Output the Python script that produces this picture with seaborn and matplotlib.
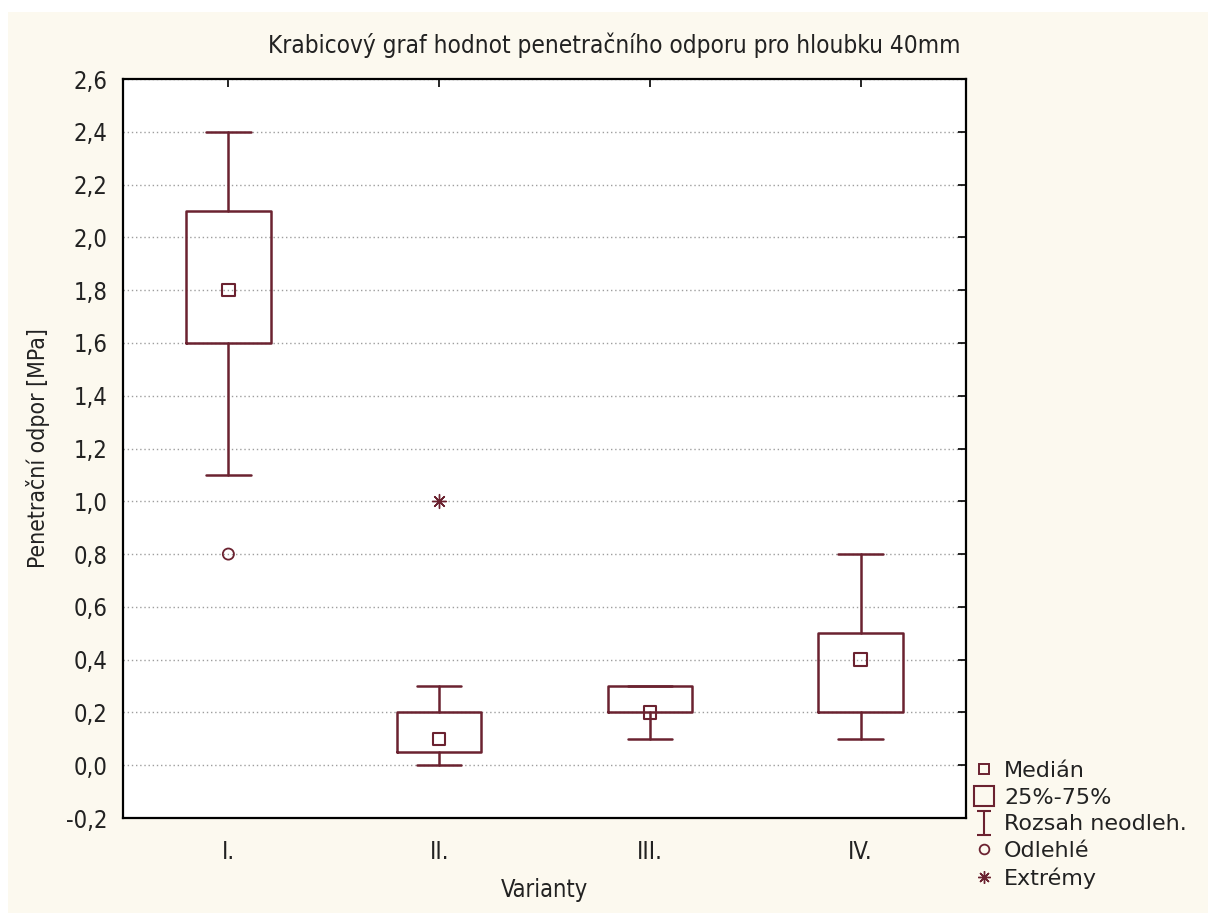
import numpy as np
import pandas as pd
import seaborn as sns
import matplotlib
matplotlib.use("Agg")
import matplotlib.pyplot as plt
from matplotlib import font_manager
from matplotlib.font_manager import FontProperties
from matplotlib.lines import Line2D
from matplotlib.path import Path
from matplotlib.patches import Rectangle
from matplotlib.ticker import FixedLocator, FuncFormatter

# Penetration resistance summary per variant [MPa]
variants = ["I.", "II.", "III.", "IV."]
medians = [1.8, 0.1, 0.2, 0.4]
q25 = [1.6, 0.05, 0.2, 0.2]
q75 = [2.1, 0.2, 0.3, 0.5]
whisker_low = [1.1, 0.0, 0.1, 0.1]
whisker_high = [2.4, 0.3, 0.3, 0.8]
outlier_variants = ["I."]
outlier_values = [0.8]
extreme_variants = ["II."]
extreme_values = [1.0]

title = "Krabicový graf hodnot penetračního odporu pro hloubku 40mm"
xlabel = "Varianty"
ylabel = "Penetrační odpor [MPa]"
legend_labels = ["Medián", "25%-75%", "Rozsah neodleh.", "Odlehlé", "Extrémy"]

sns.set_style("white")
names = {f.name for f in font_manager.fontManager.ttflist}
condensed = [n for n in ["Liberation Sans Narrow", "DejaVu Sans Condensed"] if n in names]
plt.rcParams["font.family"] = condensed + ["DejaVu Sans"]
plt.rcParams["font.stretch"] = "condensed"

MAROON = "#6B2230"
BEIGE = "#FCF9EF"
TXT = "#222222"

fig = plt.figure(figsize=(12.08, 9.13), dpi=100, facecolor="white")
fig.patches.append(Rectangle((8 / 1208, 0), 1 - 8 / 1208, 1 - 12 / 913,
                             transform=fig.transFigure, facecolor=BEIGE,
                             edgecolor="none", zorder=-10))
ax = fig.add_axes([123 / 1208, 1 - 818 / 913, (966 - 123) / 1208, (818 - 79) / 913])
ax.set_facecolor("white")

# boxes and whiskers from the summary statistics
stats = [
    dict(label=v, med=m, q1=a, q3=b, whislo=lo, whishi=hi, fliers=[])
    for v, m, a, b, lo, hi in zip(variants, medians, q25, q75, whisker_low, whisker_high)
]
line_kw = dict(color=MAROON, linewidth=1.8)
ax.bxp(stats, positions=range(len(variants)), widths=0.4, capwidths=0.21,
       showfliers=False, boxprops=line_kw, whiskerprops=line_kw, capprops=line_kw,
       medianprops=dict(visible=False), manage_ticks=False)

# median markers, outliers and extremes
med_df = pd.DataFrame({"Varianta": variants, "Hodnota": medians})
out_df = pd.DataFrame({"Varianta": outlier_variants, "Hodnota": outlier_values})
ext_df = pd.DataFrame({"Varianta": extreme_variants, "Hodnota": extreme_values})
sns.stripplot(data=med_df, x="Varianta", y="Hodnota", order=variants, jitter=False,
              marker="s", s=9, facecolors="none", edgecolor=MAROON, linewidth=1.5,
              color=MAROON, ax=ax, zorder=5)
sns.stripplot(data=out_df, x="Varianta", y="Hodnota", order=variants, jitter=False,
              marker="o", s=8, facecolors="none", edgecolor=MAROON, linewidth=1.3,
              color=MAROON, ax=ax, zorder=5)
sns.stripplot(data=ext_df, x="Varianta", y="Hodnota", order=variants, jitter=False,
              marker=(8, 2, 0), s=10, edgecolor=MAROON, linewidth=1.0,
              color=MAROON, ax=ax, zorder=5)

# axes
ax.set_xlim(-0.5, 3.5)
ax.set_ylim(-0.2, 2.6)
yticks = np.round(np.arange(-0.2, 2.61, 0.2), 1)
ax.yaxis.set_major_locator(FixedLocator(yticks))
ax.yaxis.set_major_formatter(FuncFormatter(lambda v, p: f"{v:.1f}".replace(".", ",")))
ax.set_xticks(range(len(variants)))
ax.set_xticklabels(variants)
ax.tick_params(axis="both", direction="in", length=6, width=1.2, color="black",
               labelsize=17, labelcolor=TXT, top=True, right=True)
ax.tick_params(axis="y", pad=11)
ax.tick_params(axis="x", pad=16)
ax.grid(axis="y", linestyle=(0, (1, 2)), color="#9E9E9E", linewidth=1.0)
ax.set_axisbelow(True)
for s in ax.spines.values():
    s.set_color("black")
    s.set_linewidth(1.6)
ax.set_xlabel(xlabel, fontsize=17, color=TXT, labelpad=10)
ax.set_ylabel(ylabel, fontsize=16.5, color=TXT, labelpad=12)
fig.text(614 / 1208, 1 - 45 / 913, title, ha="center", va="center",
         fontsize=17.5, color=TXT)

# legend with custom I-beam glyph for the non-outlier range
ibeam = Path([(-0.6, 1), (0.6, 1), (0, 1), (0, -1), (-0.6, -1), (0.6, -1)],
             [Path.MOVETO, Path.LINETO, Path.MOVETO, Path.LINETO, Path.MOVETO, Path.LINETO])
handles = [
    Line2D([], [], linestyle="none", marker="s", markersize=7, markerfacecolor="none",
           markeredgecolor=MAROON, markeredgewidth=1.4),
    Line2D([], [], linestyle="none", marker="s", markersize=15, markerfacecolor="none",
           markeredgecolor=MAROON, markeredgewidth=1.5),
    Line2D([], [], linestyle="none", marker=ibeam, markersize=17, markerfacecolor="none",
           markeredgecolor=MAROON, markeredgewidth=1.5),
    Line2D([], [], linestyle="none", marker="o", markersize=7, markerfacecolor="none",
           markeredgecolor=MAROON, markeredgewidth=1.3),
    Line2D([], [], linestyle="none", marker=(8, 2, 0), markersize=9,
           markeredgecolor=MAROON, markeredgewidth=1.0),
]
legend_font = FontProperties(family="DejaVu Sans", stretch="normal", size=16)
fig.legend(handles, legend_labels, loc="upper left",
           bbox_to_anchor=(973 / 1208, 1 - 761 / 913), frameon=False,
           prop=legend_font, handlelength=1.0, handletextpad=0.4, labelspacing=0.3,
           borderpad=0, borderaxespad=0, labelcolor=TXT)

fig.savefig("out.png", dpi=100, facecolor=fig.get_facecolor())
